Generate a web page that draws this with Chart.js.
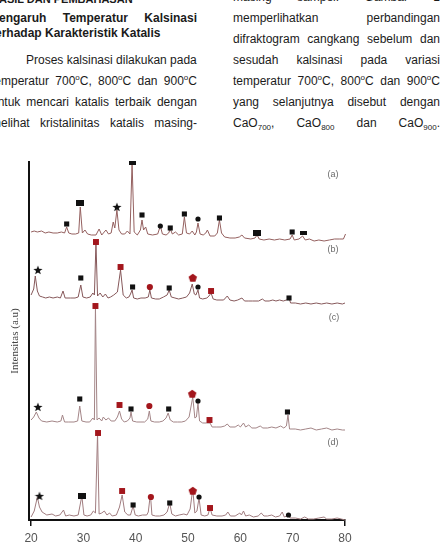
<!DOCTYPE html>
<html>
<head>
<meta charset="utf-8">
<script src="https://cdn.jsdelivr.net/npm/chart.js@4.4.1/dist/chart.umd.min.js"></script>
<style>
  body { margin: 0; width: 440px; height: 557px; overflow: hidden; position: relative; background: #fff;
         font-family: "Liberation Sans", Arial, sans-serif; font-size: 12px; color: #1b1b1b; }
  .col { position: absolute; }
  .j { text-align: justify; text-align-last: justify; }
  sup, sub { font-size: 8px; line-height: 0; }
  #chartBox { position: absolute; left: 0; top: 150px; width: 440px; height: 407px; }
</style>
</head>
<body>

<div class="col" style="left:-9px; top:-8px; width:220px; font-weight:bold; font-size:11px; line-height:15px;">HASIL DAN PEMBAHASAN</div>

<div class="col" style="left:-9px; top:10.5px; width:206px; font-weight:bold; line-height:15px;">
  <div class="j">Pengaruh Temperatur Kalsinasi</div>
  <div>terhadap Karakteristik Katalis</div>
</div>

<div class="col" style="left:-9px; top:49.5px; width:206px; line-height:21px;">
  <div style="padding-left:35px; white-space:nowrap;">Proses kalsinasi dilakukan pada</div>
  <div class="j">temperatur 700<sup>o</sup>C, 800<sup>o</sup>C dan 900<sup>o</sup>C</div>
  <div class="j">untuk mencari katalis terbaik dengan</div>
  <div class="j">melihat kristalinitas katalis masing-</div>
</div>

<div class="col" style="left:233px; top:-13.5px; width:207px; line-height:21px;">
  <div class="j">masing sampel. Gambar 1</div>
  <div class="j">memperlihatkan perbandingan</div>
  <div class="j">difraktogram cangkang sebelum dan</div>
  <div class="j">sesudah kalsinasi pada variasi</div>
  <div class="j">temperatur 700<sup>o</sup>C, 800<sup>o</sup>C dan 900<sup>o</sup>C</div>
  <div class="j">yang selanjutnya disebut dengan</div>
  <div class="j">CaO<sub>700</sub>, CaO<sub>800</sub> dan CaO<sub>900</sub>.</div>
</div>

<div id="chartBox"><canvas id="xrd" width="440" height="407"></canvas></div>

<script>
// 2 theta ticks and pattern names
const xTicks = [20, 30, 40, 50, 60, 70, 80];
const seriesNames = ['(a)', '(b)', '(c)', '(d)'];
// vertical offset of each pattern on the stacked intensity scale
const baseOffsets = [288, 223, 100, 5];

// [2theta, intensity above the pattern baseline]
const patternA = [[20,0],[20.6,1],[21.2,0],[22,1],[22.7,-1],[23.4,0],[24.2,-1],[25,-1],[25.8,0],[26.4,-1],[26.8,5],[27.2,-1],
  [27.8,-2],[28.5,-2],[29.1,-1],[29.4,25],[29.8,-1],[30.3,2],[30.8,-2],[31.5,-3],[32.4,-3],[33.0,3],[33.5,-3],[34.3,2],[34.8,-2],
  [35.3,-1],[35.7,10],[36.0,4],[36.4,22],[36.8,2],[37.3,-2],[37.9,-2],[38.4,1],[38.9,-2],[39.3,69],[39.7,0],[40.3,-3],[40.9,2],
  [41.2,12],[41.5,2],[41.9,5],[42.3,-2],[43.2,-3],[44.2,-2],[44.7,6],[45.1,-2],[45.8,-3],[46.3,-1],[46.6,3],[47.0,-2],[47.6,0],
  [48.2,-3],[48.9,-2],[49.3,15],[49.7,-1],[50.3,-2],[50.8,1],[51.3,-3],[51.6,0],[51.9,9],[52.3,-2],[52.9,-3],[53.4,-1],[53.7,2],
  [54.2,-4],[55.1,-4],[55.6,-1],[56.0,12],[56.4,-1],[57.0,-5],[58.0,-6],[59.0,-6],[59.8,-5],[60.3,-3],[60.8,-6],[62.0,-7],[62.8,-6],
  [63.2,-3],[63.6,-7],[64.5,-8],[65.5,-7],[66.5,-8],[67.5,-7],[68.5,-8],[69.5,-7],[69.9,-3],[70.3,-8],[71.2,-7],[71.9,-4],[72.4,-8],
  [73.2,-7],[74.1,-9],[75.0,-8],[76.0,-9],[77.0,-8],[78.0,-7],[78.9,-7],[79.7,-7],[80.1,-2],[80.4,7]];

const patternB = [[20,2],[20.5,8],[20.8,21],[21.2,6],[21.6,1],[22.2,0],[22.8,-1],[23.5,0],[24.2,-1],[25,0],[25.6,-1],[26.1,6],
  [26.5,-1],[27.5,-1],[28.4,-1],[29.0,0],[29.5,12],[29.9,0],[30.6,-1],[31.3,0],[31.8,4],[32.1,2],[32.4,54],[32.7,1],[33.2,4],
  [33.7,0],[34.2,3],[34.7,-1],[35.2,0],[35.8,2],[36.5,5],[37.1,27],[37.6,2],[38.2,-1],[38.7,0],[39.0,3],[39.3,7],[39.6,-1],
  [40.3,-2],[41.0,-1],[41.8,-1],[42.4,0],[42.7,7],[43.0,-1],[43.8,-2],[44.5,-2],[45.3,0],[46.0,2],[46.4,7],[46.8,0],[47.5,-1],
  [48.2,-2],[49.0,-1],[49.7,0],[50.3,4],[50.8,13],[51.2,3],[51.5,2],[51.9,7],[52.2,-1],[52.8,-2],[53.6,-1],[54.0,1],[54.4,4],
  [54.8,-2],[55.5,-3],[56.3,-3],[56.8,-3],[57.5,1],[58.0,-3],[58.8,-4],[59.5,-3],[60.3,-1],[60.8,-4],[61.5,-4],[62.3,-4],[63.5,-4],
  [64.2,-2],[64.7,-4],[65.5,-4],[66.2,-3],[66.8,-4],[67.5,-3],[68.2,-4],[68.8,-3],[69.3,-1],[69.6,-6],[70.5,-6],[71.5,-7],[72.5,-6],
  [73.5,-7],[74.5,-6],[75.5,-7],[76.5,-6],[77.5,-7],[78.5,-6],[79.5,-7],[80,-6]];

const patternC = [[20,0],[20.5,3],[21.0,8],[21.5,2],[22,-1],[23,-2],[24,-1],[25,-2],[25.7,-1],[26.0,5],[26.4,-2],[27.2,-2],
  [28.2,-2],[28.9,-1],[29.3,14],[29.7,-1],[30.5,-2],[31.2,-2],[31.8,2],[32.1,0],[32.3,114],[32.6,0],[33.0,2],[33.5,-1],[33.8,3],
  [34.3,0],[34.8,2],[35.3,-1],[36.0,-1],[36.5,3],[36.9,9],[37.3,1],[37.8,-2],[38.4,-1],[38.9,2],[39.1,8],[39.4,-1],[40.2,-2],
  [41.0,-2],[41.7,-2],[42.3,1],[42.6,9],[42.9,-1],[43.6,-2],[44.5,-2],[45.2,-1],[45.8,2],[46.2,7],[46.6,0],[47.2,-2],[48,-2],
  [48.8,-2],[49.5,-1],[50.2,3],[50.9,23],[51.3,2],[51.6,3],[51.9,17],[52.2,-1],[52.8,-3],[53.5,-3],[54.2,-3],[54.6,-7],[55.5,-7],
  [56.3,-7],[57.0,-6],[57.5,-4],[58.0,-7],[59.0,-7],[59.6,-5],[60.0,-7],[60.6,-3],[61.0,-7],[61.6,-5],[62.2,-8],[63.0,-8],[63.8,-6],
  [64.3,-8],[65.2,-8],[66,-7],[66.8,-8],[67.7,-6],[68.3,-8],[68.8,-6],[69.1,5],[69.4,-9],[70.5,-9],[71.5,-10],[72.5,-9],[73.5,-8],
  [74.5,-10],[75.5,-9],[76.5,-8],[77.5,-10],[78.5,-9],[79.5,-10],[80,-10]];

const patternD = [[20,-2],[20.6,4],[21.2,18],[21.6,8],[22.1,3],[23,0],[24,1],[24.7,-1],[25.5,0],[26.2,5],[26.6,-1],[27.3,0],
  [28.2,-1],[29.0,0],[29.7,19],[30.1,0],[30.7,-1],[31.4,0],[31.9,4],[32.3,2],[32.7,82],[33.0,1],[33.5,2],[34.0,4],[34.5,0],
  [35.0,2],[35.5,-1],[36.3,0],[36.9,8],[37.4,20],[37.9,3],[38.5,0],[39.0,0],[39.5,9],[39.9,0],[40.5,-1],[41.3,0],[42.1,0],
  [42.4,3],[42.8,21],[43.1,0],[43.8,-1],[44.6,-1],[45.4,0],[46.0,3],[46.5,12],[46.9,1],[47.6,-1],[48.3,0],[49.2,1],[49.8,0],
  [50.4,6],[50.9,26],[51.3,2],[51.7,4],[52.1,17],[52.5,0],[53.2,-1],[53.8,0],[54.2,7],[54.6,0],[55.5,-1],[56.5,-1],[57.2,0],
  [57.6,3],[58.1,-1],[59.0,-1],[59.6,1],[59.9,2],[60.2,0],[60.6,4],[61.0,-1],[61.7,0],[62.5,-2],[63.4,-1],[64.0,2],[64.5,-1],
  [65.2,-1],[66.0,0],[66.7,-2],[67.5,-1],[68.0,3],[68.4,-2],[68.9,-1],[69.2,1],[69.5,-3],[70.5,-3],[71.5,-4],[72.3,-2],[73,-4],
  [74,-4],[75,-3],[76,-2],[76.5,-4],[77.5,-4],[78.5,-3],[79.3,-4],[80,-5]];

// phase markers: [2theta, height on the stacked scale]
const blackSquares = [[26.8,296],[41.2,305],[46.6,292],[49.3,306],[56.0,302],[69.9,288],
  [29.5,242],[39.4,233],[46.4,232],[69.3,222],
  [29.3,121],[39.1,111],[46.3,111],[69.0,108],
  [39.5,15],[46.5,17]];
const blackWide = [[29.4,317],[63.2,287],[29.8,24]];
const blackBars = [[39.3,357],[72.0,287]];
const blackStars = [[36.4,313],[21.3,250],[21.3,113],[21.6,24]];
const blackCircles = [[44.7,294],[51.9,301],[51.9,233],[51.9,119],[52.1,23],[69.2,5]];
const redSquares = [[32.4,278],[37.1,253],[54.4,229],[32.3,214],[36.9,115],[54.1,100],[32.8,87],[37.4,29],[54.2,12]];
const redCircles = [[42.7,233],[42.6,114],[42.9,23]];
const redPentagons = [[50.9,242],[50.8,126],[50.9,29]];

const RED = '#a3161c';
const lineColors = ['#94605f', '#86585a', '#a38587', '#a07c7f'];

function makeMarker(w, h, draw) {
  const c = document.createElement('canvas');
  c.width = w; c.height = h;
  draw(c.getContext('2d'), w, h);
  return c;
}
function polygon(g, cx, cy, n, rOut, rIn, color) {
  g.beginPath();
  const steps = rIn ? n * 2 : n;
  for (let k = 0; k < steps; k++) {
    const r = rIn && k % 2 ? rIn : rOut;
    const a = -Math.PI / 2 + k * Math.PI * 2 / steps;
    const px = cx + r * Math.cos(a), py = cy + r * Math.sin(a);
    k ? g.lineTo(px, py) : g.moveTo(px, py);
  }
  g.closePath();
  g.fillStyle = color;
  g.fill();
}
const starImg = makeMarker(10, 10, (g) => polygon(g, 5, 5.4, 5, 4.8, 2, '#111'));
const pentImg = makeMarker(10, 10, (g) => polygon(g, 5, 5.2, 5, 4.4, 0, RED));
const wideImg = makeMarker(8, 6, (g, w, h) => { g.fillStyle = '#111'; g.fillRect(0, 0, w, h); });
const barImg = makeMarker(7, 4, (g, w, h) => { g.fillStyle = '#111'; g.fillRect(0, 0, w, h); });

const patterns = [patternA, patternB, patternC, patternD];
const lineSets = patterns.map((p, i) => ({
  label: seriesNames[i],
  data: p.map(([t, v]) => ({ x: t, y: v + baseOffsets[i] })),
  borderColor: lineColors[i],
  borderWidth: 1,
  pointRadius: 0,
  tension: 0,
  clip: false,
  order: 1
}));

function markerSet(list, style, radius, color) {
  return {
    data: list.map(([t, v]) => ({ x: t, y: v })),
    showLine: false,
    pointStyle: style,
    pointRadius: radius,
    pointBackgroundColor: color,
    pointBorderWidth: 0,
    clip: false,
    order: 0
  };
}
const markerSets = [
  markerSet(blackSquares, 'rect', 3.6, '#111'),
  markerSet(blackWide, wideImg, 4, '#111'),
  markerSet(blackBars, barImg, 4, '#111'),
  markerSet(blackStars, starImg, 4, '#111'),
  markerSet(blackCircles, 'circle', 2.6, '#111'),
  markerSet(redSquares, 'rect', 4.2, RED),
  markerSet(redCircles, 'circle', 3.1, RED),
  markerSet(redPentagons, pentImg, 4, RED)
];

// pattern names written to the right of each trace
const seriesLabels = {
  id: 'seriesLabels',
  afterDatasetsDraw(chart) {
    const { ctx, scales: { x, y } } = chart;
    const spots = [[77.7, 345], [77.7, 270], [77.9, 202], [77.7, 77]];
    ctx.save();
    ctx.font = '9px "Liberation Sans", Arial, sans-serif';
    ctx.fillStyle = '#6a6a6a';
    ctx.textAlign = 'center';
    ctx.textBaseline = 'middle';
    seriesNames.forEach((name, i) => {
      ctx.fillText(name, x.getPixelForValue(spots[i][0]), y.getPixelForValue(spots[i][1]));
    });
    ctx.restore();
  }
};

new Chart(document.getElementById('xrd'), {
  type: 'line',
  data: { datasets: [...markerSets, ...lineSets] },
  options: {
    responsive: false,
    animation: false,
    devicePixelRatio: 1,
    layout: { padding: { top: 12, right: 95, bottom: 0, left: 0 } },
    plugins: { legend: { display: false }, tooltip: { enabled: false } },
    scales: {
      x: {
        type: 'linear',
        min: 19.6,
        max: 80,
        afterBuildTicks: (s) => { s.ticks = xTicks.map(v => ({ value: v })); },
        afterFit: (s) => { s.height = 37; },
        grid: {
          drawOnChartArea: false,
          drawTicks: true,
          tickLength: 6,
          lineWidth: 1.5,
          color: (c) => (c.tick && (c.tick.value === 20 || c.tick.value === 80)) ? '#111' : 'rgba(0,0,0,0)'
        },
        border: { display: true, color: '#111', width: 2 },
        ticks: { color: '#555', padding: 5, maxRotation: 0, autoSkip: false,
                 font: { family: '"Liberation Sans", Arial, sans-serif', size: 12 } }
      },
      y: {
        min: 0,
        max: 358,
        afterFit: (s) => { s.width = 29; },
        grid: { display: false },
        border: { display: true, color: '#111', width: 2 },
        ticks: { display: false },
        title: { display: true, text: 'Intensitas (a.u)', color: '#444',
                 font: { family: '"Liberation Serif", "Times New Roman", serif', size: 11 },
                 padding: { top: 9, bottom: 0 } }
      }
    }
  },
  plugins: [seriesLabels]
});
</script>
</body>
</html>
